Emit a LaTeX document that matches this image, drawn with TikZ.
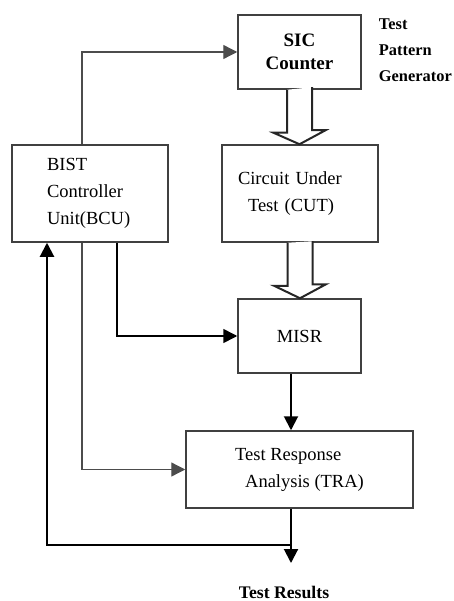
\documentclass[tikz,border=0pt]{standalone}
\usepackage{fontspec}
\setmainfont{Liberation Serif}
\usetikzlibrary{arrows.meta, positioning, calc}
\tikzset{
    block/.style={rectangle, draw=black!75, line width=1.5pt, fill=white, inner sep=0pt, font=\fontsize{18.5}{27}\selectfont},
    arrow/.style={-{Triangle[length=14pt, width=14pt]}, line width=2pt},
    thinarrow/.style={-{Triangle[length=14pt, width=14pt]}, line width=1.3pt, draw=black!70},
    hollow/.style={draw=black!85, line width=2pt, line join=miter, fill=white},
}

\begin{document}
\begin{tikzpicture}[x=1pt, y=-1pt]
        \useasboundingbox (0,0) rectangle (453,601);
        % Blocks
        \node[block, minimum width=123pt, minimum height=74pt, align=center, font=\bfseries\fontsize{19}{23}\selectfont] (sic) at (299.5,52) {SIC\\Counter};
        \node[anchor=west, inner sep=0pt, align=left, font=\bfseries\fontsize{16.4}{26}\selectfont] (tpg) at ([xshift=17pt,yshift=1.5pt]sic.east) {Test\\Pattern\\Generator};

        \node[block, minimum width=156pt, minimum height=97pt, text width=86pt, align=left] (bcu) at (90,193.5) {BIST\\Controller\\Unit(BCU)};
        \node[block, minimum width=156pt, minimum height=97pt, text width=124pt, align=left] (cut) at (300,193.5) {Circuit Under\\\hspace*{10pt}Test (CUT)};

        \node[block, minimum width=123pt, minimum height=74pt] (misr) at (299.5,336) {MISR};
        \node[block, minimum width=227pt, minimum height=77pt, align=left] (tra) at (299.5,469.5) {Test Response\\\hspace*{10pt}Analysis (TRA)};

        \node[inner sep=0pt, font=\bfseries\fontsize{17.7}{20}\selectfont] (res) at (284,592) {Test Results};

        \coordinate (tap) at (291,545);
        \coordinate (tip) at (291,563);

        % Block arrows
        \draw[hollow] ([xshift=-12.5pt]sic.south) -- ++(0,43) -- ++(-13.5,0) -- (sic.south |- cut.north) -- ++(26,-14) -- ++(-13.5,0) -- ++(0,-43);
        \draw[hollow] ([xshift=-12.5pt]cut.south) -- ++(0,43) -- ++(-13.5,0) -- (cut.south |- misr.north) -- ++(26,-14) -- ++(-13.5,0) -- ++(0,-43);

        % Connections
        \draw[thinarrow] ([xshift=-8pt]bcu.north) |- (sic.west);
        \draw[thinarrow] ([xshift=-8pt]bcu.south) |- (tra.west);
        \draw[arrow, line width=1.6pt] ([xshift=27pt]bcu.south) |- (misr.west);
        \draw[arrow] ([xshift=-8.5pt]misr.south) -- ([xshift=-8.5pt]misr.south |- tra.north);
        \draw[arrow] ([xshift=-8.5pt]tra.south) -- (tip);
        \draw[arrow] (tap) -| ([xshift=-43pt]bcu.south);
    \end{tikzpicture}
\end{document}
